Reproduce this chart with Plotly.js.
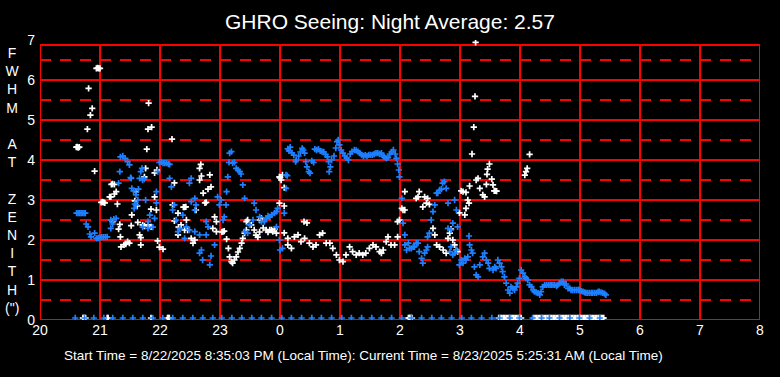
<!DOCTYPE html>
<html>
<head>
<meta charset="utf-8">
<script src="https://cdn.plot.ly/plotly-3.0.1.min.js"></script>
<style>html,body{margin:0;padding:0;background:#000;}#chart{width:780px;height:377px;}</style>
</head>
<body>
<div id="chart"></div>
<script>
// ---- data (hours since 20:00 of 8/22; 24 = midnight) ----
const whiteHour = [20.605,20.62,20.635,20.655,20.79,20.81,20.84,20.87,20.91,20.94,20.96,20.98,21.0,
21.02,21.04,21.06,21.08,21.16,21.18,21.19,21.21,21.24,21.24,21.27,21.29,21.21,21.31,21.33,21.34,21.35,21.40,21.43,21.46,21.49,
21.52,21.53,21.58,21.60,21.62,21.63,21.66,21.68,21.68,21.71,21.74,21.76,21.74,21.78,21.80,21.81,21.80,21.85,21.85,21.86,21.91,21.91,21.94,21.95,21.96,21.99,22.05,
22.20,22.21,22.24,22.24,22.30,22.30,22.31,22.35,22.39,22.41,22.43,22.41,22.44,22.46,22.52,22.55,22.58,22.60,22.66,22.66,22.68,22.69,22.72,22.75,22.77,22.80,22.83,22.85,22.88,22.91,22.94,22.94,
23.03,23.05,23.07,23.11,23.14,23.16,23.19,23.21,23.24,23.27,23.30,23.33,23.36,23.38,23.41,23.44,23.44,23.46,23.52,23.57,23.60,23.63,23.66,23.69,23.66,23.72,23.77,23.80,23.83,23.86,23.88,23.91,23.94,
23.99,24.02,24.04,24.00,24.07,23.99,24.07,24.07,24.13,24.13,24.19,24.24,24.30,24.35,24.41,24.40,24.45,24.49,24.55,24.60,24.66,24.71,24.77,24.83,24.88,24.94,24.99,
25.05,25.10,25.16,25.21,25.27,25.32,25.38,25.43,25.49,25.55,25.60,25.66,25.69,25.72,25.77,25.80,25.85,25.91,25.96,25.96,25.99,
26.03,26.05,26.08,26.08,26.27,26.30,26.32,26.38,26.41,26.44,26.46,26.49,26.55,26.58,26.61,26.66,26.72,26.77,26.80,26.83,26.85,26.88,26.91,26.94,26.96,26.99,
27.02,27.05,27.08,27.10,27.10,27.13,27.15,27.16,27.20,27.23,27.25,27.26,27.27,27.30,27.33,27.38,27.41,27.44,27.45,27.46,27.49,27.53,27.55,27.57,27.59,27.61,
28.08,28.10,28.12,28.16];
const whiteFwhm = [4.32,4.33,4.31,4.32,4.77,5.79,5.12,5.29,3.72,6.29,6.30,6.29,6.29,
2.94,2.95,2.94,2.93,3.08,3.08,3.39,3.40,3.39,3.15,3.21,2.90,2.46,2.27,2.39,2.08,1.83,1.88,1.90,1.96,1.92,
2.36,2.63,2.98,3.21,2.85,2.44,2.13,2.06,1.88,2.38,3.58,3.79,2.35,4.27,4.77,5.42,2.38,2.33,2.77,4.82,3.68,3.08,2.75,3.75,1.98,1.82,1.77,
4.52,2.88,3.43,2.48,2.67,2.13,2.32,2.38,2.82,2.82,2.83,2.25,2.50,2.25,2.04,1.92,2.00,2.75,3.50,3.79,3.89,3.60,3.17,2.93,2.94,3.27,3.63,3.33,2.29,2.58,2.46,2.21,
2.20,2.21,2.22,2.02,1.79,1.58,1.46,1.42,1.50,1.58,1.70,1.79,1.92,2.04,2.17,2.25,2.46,2.50,2.38,2.25,2.12,2.07,2.50,2.54,2.20,2.30,2.25,2.20,2.25,2.25,2.21,2.27,2.17,
3.58,3.50,3.63,3.55,3.31,2.92,2.85,2.18,2.04,1.88,1.79,2.08,2.13,1.96,2.04,2.46,2.43,1.92,1.83,1.88,2.13,2.17,1.92,1.92,1.79,1.63,1.50,
1.46,1.63,1.83,1.71,1.63,1.67,1.63,1.67,1.79,1.88,1.83,1.71,1.67,1.75,1.96,2.08,1.88,1.88,2.08,2.46,2.50,
2.79,2.75,2.75,3.21,3.04,3.08,3.21,2.83,3.08,2.92,3.04,2.89,2.29,2.13,1.88,1.83,1.75,1.67,2.04,2.17,2.27,2.00,1.88,1.75,1.71,2.68,
3.23,3.21,2.63,3.19,2.79,3.00,2.92,3.35,4.15,4.82,5.59,6.94,3.50,3.54,3.29,3.13,3.08,3.39,3.64,3.77,3.90,3.52,3.38,3.23,3.23,3.22,
3.62,3.71,3.79,4.14];

const blueHour = [20.61,20.635,20.66,20.685,20.71,20.735,20.755,20.77,20.80,20.83,20.85,20.91,20.94,20.97,21.00,21.03,21.06,21.09,21.12,
21.18,21.18,21.21,21.23,21.27,21.31,21.33,21.34,21.38,21.42,21.46,21.49,21.51,21.52,21.53,21.56,21.57,21.58,21.60,21.60,21.63,21.64,21.66,21.68,21.70,21.71,21.71,21.74,21.76,21.80,21.80,21.83,21.88,21.91,21.94,21.94,21.96,21.99,
22.02,22.05,22.08,22.11,22.14,22.16,22.16,22.19,22.21,22.24,22.27,22.30,22.33,22.38,22.41,22.44,22.49,22.49,22.52,22.52,22.58,22.58,22.58,22.60,22.66,22.66,22.69,22.71,22.77,22.77,22.80,22.83,22.85,22.91,22.96,22.99,
23.02,23.05,23.07,23.10,23.11,23.13,23.15,23.16,23.19,23.21,23.24,23.27,23.30,23.33,23.35,23.38,23.41,23.41,23.46,23.49,23.55,23.57,23.60,23.66,23.69,23.74,23.77,23.80,23.83,23.86,23.91,23.94,23.96,23.94,23.99,24.00,24.04,24.07,24.10,24.10,24.12,
24.13,24.15,24.17,24.20,24.23,24.26,24.27,24.31,24.34,24.37,24.39,24.41,24.43,24.45,24.48,24.50,24.53,24.56,24.58,24.61,24.64,24.67,24.70,24.73,24.76,24.79,24.81,24.84,24.82,24.86,24.90,24.93,24.95,24.97,24.99,
25.02,25.05,25.08,25.11,25.14,25.17,25.20,25.24,25.27,25.30,25.33,25.36,25.39,25.42,25.45,25.48,25.51,25.54,25.57,25.60,25.63,25.66,25.69,25.72,25.74,25.77,25.80,25.83,25.86,25.89,25.92,25.94,25.96,25.98,25.99,
26.03,26.05,26.08,26.08,26.11,26.14,26.16,26.19,26.22,26.24,26.27,26.30,26.32,26.36,26.38,26.41,26.44,26.46,26.46,26.49,26.52,26.55,26.58,26.61,26.63,26.66,26.69,26.71,26.74,26.77,26.80,26.80,26.85,26.88,26.91,26.94,26.96,26.83,26.85,26.88,26.91,26.94,26.99,
27.02,27.05,27.08,27.10,27.13,27.15,27.16,27.19,27.21,27.24,27.27,27.30,27.33,27.38,27.41,27.44,27.47,27.49,27.55,27.58,27.60,27.63,27.66,27.69,27.71,27.74,27.77,27.80,27.83,27.85,27.88,27.91,27.94,27.96,27.99,
28.02,28.05,28.08,28.10,28.13,28.16,28.19,28.22,28.24,28.27,28.30,28.33,28.35,28.38,28.41,28.44,28.47,28.50,28.52,28.55,28.58,28.61,28.63,28.66,28.69,28.72,28.74,28.77,28.80,28.83,28.85,28.88,28.91,28.94,28.97,28.99,
29.02,29.05,29.08,29.10,29.13,29.16,29.19,29.21,29.24,29.27,29.30,29.32,29.35,29.38,29.41,29.43];
const blueFwhm = [2.67,2.67,2.67,2.67,2.67,2.67,2.67,2.40,2.33,2.15,2.08,2.17,2.04,2.05,2.06,2.07,2.07,2.07,2.08,
2.29,2.50,2.40,2.52,2.54,3.42,3.71,4.08,4.10,4.04,3.96,3.88,3.56,3.54,3.29,3.23,2.79,2.90,3.13,2.88,3.00,3.27,3.54,3.71,3.79,3.50,2.32,3.52,3.00,2.46,2.29,2.62,2.32,2.54,3.21,2.93,3.71,3.94,
3.95,3.92,3.92,3.92,3.90,3.89,3.54,3.33,2.75,2.88,2.50,2.21,2.29,2.62,2.04,2.33,3.42,2.25,3.54,2.96,3.04,2.75,2.21,2.88,2.13,1.67,1.75,1.50,2.46,2.13,2.33,1.38,1.60,1.88,3.08,2.88,
3.00,2.50,2.58,2.88,3.21,3.58,3.94,4.17,4.21,3.92,3.94,3.79,3.75,3.71,3.65,3.38,3.04,2.21,2.17,2.38,2.50,2.92,2.75,2.58,2.46,2.46,2.54,2.60,2.58,2.63,2.67,2.71,2.79,2.33,2.00,1.75,1.79,2.67,3.63,3.29,3.61,
4.28,4.23,4.32,4.18,4.12,3.96,4.00,4.10,4.20,4.29,4.25,4.17,3.96,3.83,3.71,3.67,3.98,3.94,4.27,4.25,4.27,4.23,4.21,4.20,4.14,4.08,3.96,3.83,3.71,4.00,4.10,4.30,4.46,4.50,4.38,
4.25,4.17,4.10,4.05,4.00,4.15,4.21,4.25,4.24,4.21,4.17,4.13,4.10,4.12,4.10,4.13,4.13,4.13,4.15,4.17,4.17,4.15,4.17,4.10,4.07,4.04,4.06,4.15,4.20,4.25,4.15,4.04,3.90,3.75,3.58,
3.04,2.42,2.13,1.88,1.75,1.92,1.79,1.79,1.83,1.83,1.92,1.92,1.71,1.54,1.42,1.67,1.75,1.83,2.08,2.17,2.50,2.71,2.88,3.17,3.17,3.25,3.27,3.42,3.46,3.29,2.92,2.29,2.25,2.42,3.00,2.75,2.33,1.71,1.83,1.63,1.67,1.75,1.38,
1.50,1.42,1.54,1.50,1.58,2.10,1.88,1.75,1.67,1.33,1.13,1.08,1.38,1.58,1.67,1.50,1.42,1.29,1.25,1.33,1.29,1.50,1.42,1.33,1.21,1.08,0.92,0.75,0.67,0.83,0.79,0.75,0.83,0.92,1.04,
1.25,1.17,1.08,1.04,1.00,0.88,0.83,0.75,0.71,0.69,0.67,0.63,0.71,0.83,0.88,0.88,0.88,0.88,0.88,0.88,0.88,0.85,0.88,0.92,0.96,0.96,0.88,0.90,0.79,0.79,0.75,0.75,0.75,0.75,0.75,0.75,
0.72,0.71,0.69,0.68,0.68,0.68,0.68,0.68,0.68,0.68,0.70,0.71,0.69,0.68,0.66,0.63];

// readings pinned at the floor of the chart
const blueFloorHour = [20.587,20.742,20.897,21.063,21.213,21.380,21.547,21.713,21.880,22.047,22.213,22.380,22.547,22.713,22.880,23.030,23.197,23.363,23.530,23.690,23.860,24.030,24.190,24.360,24.530,24.690,24.860,25.030,25.190,25.360,25.530,25.690,25.860,26.030,26.190,26.360,26.530,26.690,26.860,27.030,27.190,27.360,27.530,27.660,27.830,27.990,28.210,28.360,28.490,28.660,28.830,28.990,29.160,29.330];
const blueFloorFwhm = [0.05,0.05,0.05,0.05,0.05,0.05,0.05,0.05,0.05,0.05,0.05,0.05,0.05,0.05,0.05,0.05,0.05,0.05,0.05,0.05,0.05,0.05,0.05,0.05,0.05,0.05,0.05,0.05,0.05,0.05,0.05,0.05,0.05,0.05,0.05,0.05,0.05,0.05,0.05,0.05,0.05,0.05,0.05,0.05,0.05,0.05,0.05,0.05,0.05,0.05,0.05,0.05,0.05,0.05];
const whiteFloorHour = [20.715,20.73,20.745,20.76,21.12,21.135,21.85,22.125,22.14,22.155,26.14,26.155,26.17,26.185,26.20,
27.645,27.67,27.695,27.72,27.745,27.77,27.795,27.82,27.845,27.87,27.895,27.92,27.945,27.97,27.995,28.02,
28.23,28.255,28.28,28.305,28.33,28.355,28.38,28.405,28.43,28.455,28.48,28.505,28.53,28.555,28.58,28.605,28.63,28.655,28.68,28.705,28.73,28.755,28.78,28.805,28.83,28.855,28.88,28.905,28.93,28.955,28.98,29.005,29.03,29.055,29.08,29.105,29.13,29.155,29.18,29.205,29.23,29.255,29.28,29.305,29.33,29.355,29.38,29.395];
const whiteFloorFwhm = whiteFloorHour.map(() => 0.05);

const hourTicks = [20,21,22,23,24,25,26,27,28,29,30,31,32];
const hourLabels = ['20','21','22','23','0','1','2','3','4','5','6','7','8'];
const fwhmTicks = [0,1,2,3,4,5,6,7];
const fwhmLabels = ['0','1','2','3','4','5','6','7'];
const titleText = 'GHRO Seeing: Night Average: 2.57';
const yTitleLetters = ['F','W','H','M','\u00a0','A','T','\u00a0','Z','E','N','I','T','H','(")'];
const footerText = 'Start Time = 8/22/2025 8:35:03 PM (Local Time): Current Time = 8/23/2025 5:25:31 AM (Local Time)';

// ---- styling ----
const FONT = 'Liberation Sans, Arial, sans-serif';
const WHITE = '#ffffff';
const BLUE = '#1e80ff';
const RED = '#ff0000';
const TOP = 6.875;

function crossMarker(color) {
  return {symbol: 'cross-thin-open', size: 4.5, color: color, line: {color: color, width: 1.7}};
}

const traces = [
  {x: whiteFloorHour, y: whiteFloorFwhm, type: 'scatter', mode: 'markers', marker: crossMarker(WHITE), hoverinfo: 'skip'},
  {x: whiteHour, y: whiteFwhm, type: 'scatter', mode: 'markers', marker: crossMarker(WHITE), hoverinfo: 'skip'},
  {x: blueFloorHour, y: blueFloorFwhm, type: 'scatter', mode: 'markers', marker: crossMarker(BLUE), hoverinfo: 'skip'},
  {x: blueHour, y: blueFwhm, type: 'scatter', mode: 'markers', marker: crossMarker(BLUE), hoverinfo: 'skip'}
];

const shapes = [];
hourTicks.forEach(h => shapes.push({type: 'line', layer: 'below', xref: 'x', yref: 'y', x0: h, x1: h, y0: 0, y1: TOP, line: {color: RED, width: 2}}));
[0,1,2,3,4,5,6,TOP].forEach(v => shapes.push({type: 'line', layer: 'below', xref: 'x', yref: 'y', x0: 20, x1: 32, y0: v, y1: v, line: {color: RED, width: 2}}));
[0.5,1.5,2.5,3.5,4.5,5.5,6.5].forEach(v => shapes.push({type: 'line', layer: 'below', xref: 'x', yref: 'y', x0: 20, x1: 32, y0: v, y1: v, line: {color: RED, width: 2, dash: '11px,9px'}}));

const layout = {
  width: 780, height: 377,
  paper_bgcolor: '#000', plot_bgcolor: '#000',
  margin: {l: 40, r: 20, t: 40, b: 57, pad: 0},
  showlegend: false,
  title: {text: titleText, font: {family: FONT, size: 21, color: WHITE}, x: 0.5, xanchor: 'center', y: 0.943, yanchor: 'middle'},
  xaxis: {range: [20, 32], tickvals: hourTicks, ticktext: hourLabels, showgrid: false, zeroline: false, showline: false,
          ticks: '', tickfont: {family: FONT, size: 14, color: WHITE}, fixedrange: true},
  yaxis: {range: [0, 7], tickvals: fwhmTicks, ticktext: fwhmLabels, showgrid: false, zeroline: false, showline: false,
          ticks: '', ticklabelstandoff: 4, tickfont: {family: FONT, size: 14, color: WHITE}, fixedrange: true},
  shapes: shapes,
  annotations: [
    {text: yTitleLetters.join('<br>'), xref: 'paper', yref: 'paper', x: -28/720, y: 0.4975, xanchor: 'center', yanchor: 'middle',
     showarrow: false, align: 'center', font: {family: FONT, size: 14, color: WHITE}},
    {text: footerText, xref: 'paper', yref: 'paper', x: 22/720, y: -35/280, xanchor: 'left', yanchor: 'middle',
     showarrow: false, font: {family: FONT, size: 13.5, color: WHITE}}
  ]
};

Plotly.newPlot('chart', traces, layout, {staticPlot: true, displayModeBar: false});
</script>
</body>
</html>
